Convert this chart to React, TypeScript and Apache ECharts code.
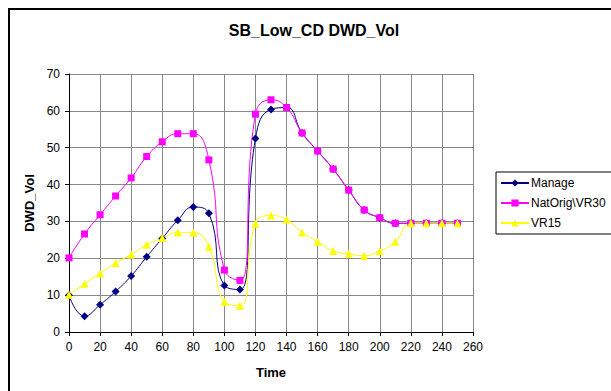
import React, { useEffect, useRef } from "react";
import * as echarts from "echarts";

const times = [0, 10, 20, 30, 40, 50, 60, 70, 80, 90, 100, 110, 120, 130, 140, 150, 160, 170, 180, 190, 200, 210, 220, 230, 240, 250];
const manage = [10.0, 4.3, 7.4, 11.0, 15.2, 20.4, 25.4, 30.3, 33.9, 32.2, 12.6, 11.5, 52.5, 60.4, 60.9, 54.0, 49.1, 44.2, 38.5, 33.1, 31.0, 29.5, 29.5, 29.5, 29.5, 29.5];
const natOrig = [20.1, 26.6, 31.8, 36.9, 41.8, 47.6, 51.6, 53.8, 53.8, 46.7, 16.8, 14.0, 59.1, 63.0, 60.9, 54.0, 49.1, 44.2, 38.5, 33.1, 31.0, 29.5, 29.5, 29.5, 29.5, 29.5];
const vr15 = [10.1, 13.1, 15.9, 18.7, 21.0, 23.7, 25.5, 27.0, 27.0, 23.1, 8.2, 7.1, 29.4, 31.6, 30.5, 27.0, 24.5, 22.0, 21.2, 20.7, 22.0, 24.5, 29.5, 29.5, 29.5, 29.5];
const seriesNames = ["Manage", "NatOrig\\VR30", "VR15"];
const chartTitle = "SB_Low_CD DWD_Vol";
const xName = "Time";
const yName = "DWD_Vol";

const FONT = "'Liberation Sans', Arial, sans-serif";

export default function App() {
  const ref = useRef<HTMLDivElement>(null);
  useEffect(() => {
    if (!ref.current) return;
    const chart = echarts.init(ref.current, undefined, { renderer: "svg" });
    const pairs = (ys: number[]) => times.map((t, i) => [t, ys[i]]);
    const mk = (name: string, ys: number[], color: string, symbol: string, size: number) => ({
      name,
      type: "line",
      data: pairs(ys),
      smooth: 0.5,
      symbol,
      symbolSize: size,
      showAllSymbol: true,
      lineStyle: { color, width: 1 },
      itemStyle: { color },
      emphasis: { disabled: true },
    });
    chart.setOption({
      animation: false,
      backgroundColor: "#ffffff",
      textStyle: { fontFamily: FONT },
      title: {
        text: chartTitle,
        left: 314,
        top: 22,
        padding: 0,
        textAlign: "center",
        textStyle: { fontSize: 16, fontWeight: "bold", color: "#000", fontFamily: FONT },
      },
      graphic: [
        {
          type: "rect",
          shape: { x: 9, y: 9, width: 800, height: 600 },
          style: { fill: "none", stroke: "#000", lineWidth: 2 },
          silent: true,
        },
      ],
      legend: {
        left: 496,
        top: 172,
        orient: "vertical",
        itemWidth: 28,
        itemHeight: 9,
        itemGap: 8,
        padding: [5, 6, 5, 4],
        borderColor: "#000",
        borderWidth: 1,
        textStyle: { fontSize: 12, color: "#000", fontFamily: FONT, padding: [0, 0, 0, -3] },
        data: seriesNames,
      },
      grid: { left: 69, right: 138, top: 74, bottom: 59, containLabel: false },
      xAxis: {
        type: "value",
        min: 0,
        max: 260,
        interval: 20,
        name: xName,
        nameLocation: "middle",
        nameGap: 34,
        nameTextStyle: { fontSize: 13, fontWeight: "bold", color: "#000", fontFamily: FONT },
        axisLine: { show: true, onZero: false, lineStyle: { color: "#000", width: 1 } },
        axisTick: { show: true, length: 4, lineStyle: { color: "#000" } },
        axisLabel: { fontSize: 12, color: "#000", margin: 9, fontFamily: FONT },
        splitLine: { show: true, lineStyle: { color: "#888", width: 1 } },
      },
      yAxis: {
        type: "value",
        min: 0,
        max: 70,
        interval: 10,
        name: yName,
        nameLocation: "middle",
        nameGap: 31,
        nameTextStyle: { fontSize: 13, fontWeight: "bold", color: "#000", fontFamily: FONT },
        axisLine: { show: true, lineStyle: { color: "#000", width: 1 } },
        axisTick: { show: true, length: 4, lineStyle: { color: "#000" } },
        axisLabel: { fontSize: 12, color: "#000", margin: 9, fontFamily: FONT },
        splitLine: { show: true, lineStyle: { color: "#888", width: 1 } },
      },
      series: [
        mk(seriesNames[0], manage, "#000080", "diamond", 8),
        mk(seriesNames[1], natOrig, "#FF00FF", "rect", 7),
        mk(seriesNames[2], vr15, "#FFFF00", "triangle", 8),
      ],
    });
    return () => chart.dispose();
  }, []);
  return (
    <div
      ref={ref}
      style={{ position: "fixed", left: 0, top: 0, width: 611, height: 391 }}
    />
  );
}
